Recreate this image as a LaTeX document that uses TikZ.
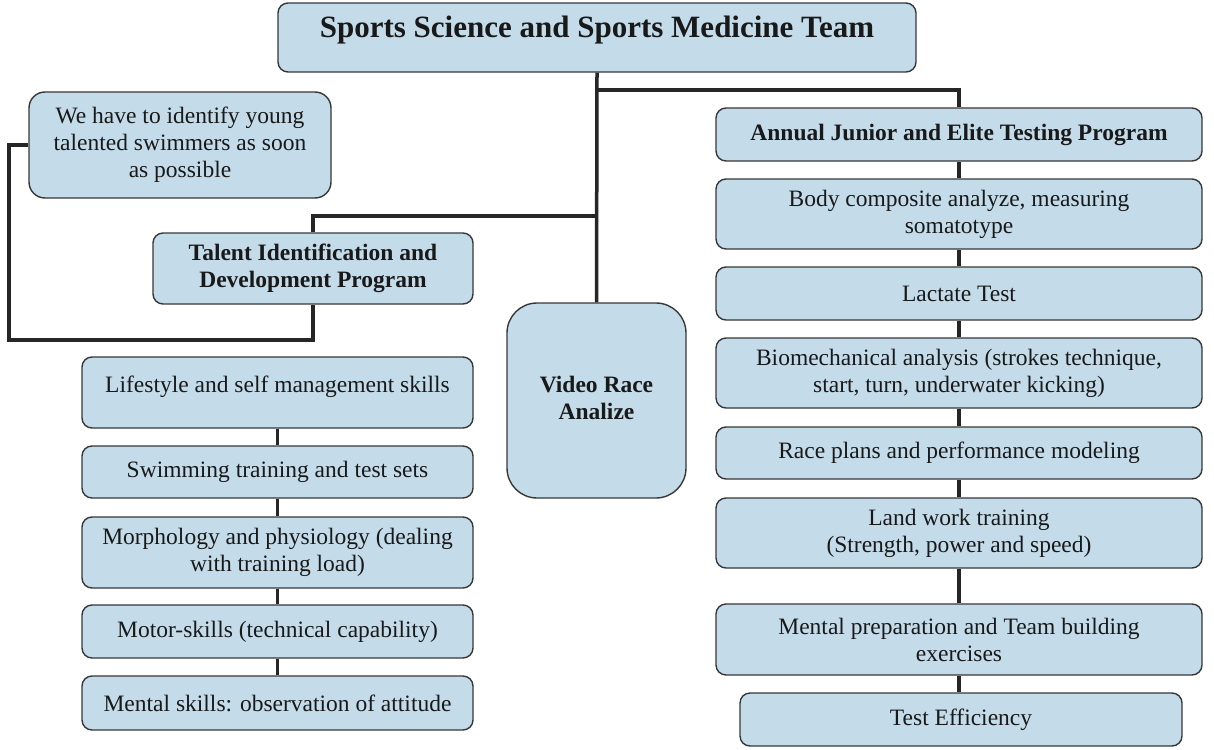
\documentclass[tikz,border=0pt]{standalone}
\usepackage{fontspec}
\setmainfont{Liberation Serif}
\definecolor{boxblue}{RGB}{196,220,234}
\definecolor{edgegray}{RGB}{55,55,55}
\begin{document}
\begin{tikzpicture}[x=1pt,y=-1pt,
    box/.style={draw=edgegray, line width=1.4pt, fill=boxblue, rounded corners=10pt,
        inner sep=0pt, align=center, text=black!90, font=\fontsize{23.5}{27}\selectfont},
    head/.style={box, font=\fontsize{23.5}{27}\selectfont\bfseries},
    link/.style={line width=3.5pt, black!85}]
\useasboundingbox (0,0) rectangle (1214,749);

% top and middle
\node[box, minimum width=638pt, minimum height=69pt, text height=35pt, text depth=34pt,
    font=\fontsize{31}{36}\selectfont\bfseries] (team) at (597,37.5) {Sports Science and Sports Medicine Team};
\node[box, rounded corners=16pt, minimum width=302pt, minimum height=106pt] (young) at (180,145)
    {We have to identify young\\talented swimmers as soon\\as possible};
\node[head, minimum width=320pt, minimum height=71pt] (talent) at (313,268.5)
    {Talent Identification and\\Development Program};
\node[head, rounded corners=30pt, minimum width=179pt, minimum height=195pt, text height=89pt, text depth=106pt]
    (video) at (596.5,400.5) {\begin{tabular}[t]{@{}c@{}}Video Race\\Analize\end{tabular}};

% right column
\node[head, minimum width=486pt, minimum height=53pt] (annual) at (959,134.5) {Annual Junior and Elite Testing Program};
\node[box, minimum width=486pt, minimum height=70pt] (body) at (959,214) {Body composite analyze, measuring\\somatotype};
\node[box, minimum width=486pt, minimum height=53pt] (lactate) at (959,293.5) {Lactate Test};
\node[box, minimum width=486pt, minimum height=70pt] (biomech) at (959,373)
    {Biomechanical analysis (strokes technique,\\start, turn, underwater kicking)};
\node[box, minimum width=486pt, minimum height=52pt] (race) at (959,453) {Race plans and performance modeling};
\node[box, minimum width=486pt, minimum height=70pt] (land) at (959,533) {Land work training\\(Strength, power and speed)};
\node[box, minimum width=486pt, minimum height=71pt] (mprep) at (959,639.5)
    {Mental preparation and Team building\\exercises};
\node[box, minimum width=442pt, minimum height=53pt] (eff) at (961,719.5) {Test Efficiency};

% left column
\node[box, minimum width=391pt, minimum height=71pt, text height=35pt, text depth=36pt] (life) at (277.5,392.5)
    {Lifestyle and self management skills};
\node[box, minimum width=391pt, minimum height=52pt] (swim) at (277.5,472) {Swimming training and test sets};
\node[box, minimum width=391pt, minimum height=71pt] (morph) at (277.5,552.5)
    {Morphology and physiology (dealing\\with training load)};
\node[box, minimum width=391pt, minimum height=53pt] (motor) at (277.5,631.5) {Motor-skills (technical capability)};
\node[box, minimum width=391pt, minimum height=54pt] (mskill) at (277.5,703) {Mental skills: observation of attitude};

% connectors
\coordinate (jr) at (597,90);
\coordinate (jl) at (597,216);
\coordinate (bend) at (9,340);
\draw[link] (team.south) -- (video.north);
\draw[link] (jr) -| (annual.north);
\draw[link] (jl) -| (talent.north);
\draw[link] (young.west) -| (bend) -| (talent.south);

\foreach \a/\b in {annual/body, body/lactate, lactate/biomech, biomech/race, race/land, land/mprep}
    \draw[link] (\a.south) -- (\b.north);
\draw[link] (mprep.south) -- (mprep.south |- eff.north);
\foreach \a/\b in {life/swim, swim/morph, morph/motor, motor/mskill}
    \draw[link] (\a.south) -- (\b.north);

\end{tikzpicture}
\end{document}
